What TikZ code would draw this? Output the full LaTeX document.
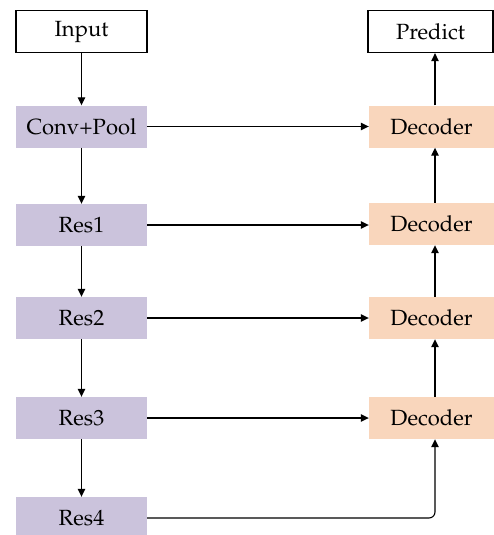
\documentclass[tikz,border=0pt]{standalone}
\usepackage[T1]{fontenc}
\usepackage{mathpazo}
\usetikzlibrary{arrows.meta}
\definecolor{encfill}{HTML}{CBC3DC}
\definecolor{decfill}{HTML}{F9D6BC}
\tikzset{
  x=1pt, y=-1pt,
  every node/.style={font=\fontsize{22}{26}\selectfont, inner sep=0pt},
  iobox/.style={draw=black, line width=1.3pt, fill=white, minimum width=131pt, minimum height=42pt},
  encbox/.style={fill=encfill, minimum width=131pt, minimum height=42pt},
  decbox/.style={fill=decfill, minimum width=125pt, minimum height=42pt},
  link/.style={line width=1.1pt, -{Triangle[length=8pt,width=7.5pt]}},
}
\begin{document}
\begin{tikzpicture}
\useasboundingbox (0,0) rectangle (494,535);
% encoder column
\node[iobox]  (in)   at (81.5,31.5)  {Input};
\node[encbox] (conv) at (81.5,126.5) {Conv+Pool};
\node[encbox] (r1)   at (81.5,225)   {Res1};
\node[encbox] (r2)   at (81.5,318)   {Res2};
\node[encbox] (r3)   at (81.5,418)   {Res3};
\node[encbox] (r4)   at (81.5,518)   {Res4};
% decoder column
\node[iobox, minimum width=125pt] (out) at (430.5,31.5) {Predict};
\node[decbox] (d1) at (431.5,126.5) {Decoder};
\node[decbox] (d2) at (431.5,224)   {Decoder};
\node[decbox] (d3) at (431.5,318)   {Decoder};
\node[decbox] (d4) at (431.5,418)   {Decoder};
% downward path
\draw[link] (in) -- (conv);
\draw[link] (conv) -- (r1);
\draw[link] (r1) -- (r2);
\draw[link] (r2) -- (r3);
\draw[link] (r3) -- (r4);
% skip connections
\draw[link] (conv) -- (d1);
\draw[link] (r1) -- (r1 -| d2.west);
\draw[link] (r2) -- (d3);
\draw[link] (r3) -- (d4);
% upward path
\draw[link] ([xshift=3.5pt]d4.north) -- ([xshift=3.5pt]d3.south);
\draw[link] ([xshift=3.5pt]d3.north) -- ([xshift=3.5pt]d2.south);
\draw[link] ([xshift=3.5pt]d2.north) -- ([xshift=3.5pt]d1.south);
\draw[link] ([xshift=3.5pt]d1.north) -- ([xshift=4.5pt]out.south);
\draw[link, rounded corners=6pt] (r4.east) -| ([xshift=3.5pt]d4.south);
\end{tikzpicture}
\end{document}
